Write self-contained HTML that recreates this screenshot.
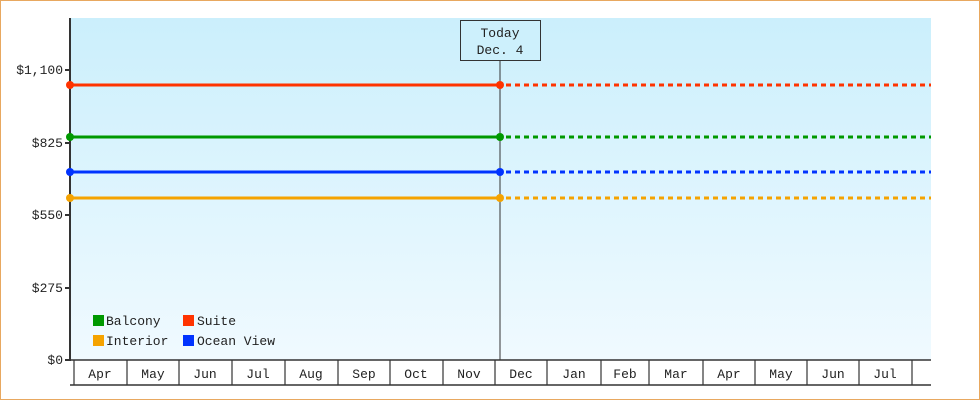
<!DOCTYPE html>
<html><head><meta charset="utf-8"><style>
html,body{margin:0;padding:0;background:#fff}
svg{display:block}
text{font-family:"Liberation Mono","DejaVu Sans Mono",monospace;font-size:13px;fill:#222}
</style></head><body>
<svg width="980" height="400" viewBox="0 0 980 400" xmlns="http://www.w3.org/2000/svg">
<defs><linearGradient id="g" x1="0" y1="0" x2="0" y2="1"><stop offset="0" stop-color="#cbeffc"/><stop offset="1" stop-color="#f0faff"/></linearGradient></defs>
<rect x="0.5" y="0.5" width="979" height="399" fill="#fff" stroke="#e8a860"/>
<rect x="71" y="18" width="860" height="342" fill="url(#g)"/>
<line x1="70" y1="18" x2="70" y2="361" stroke="#333" stroke-width="2"/>
<g stroke="#333" stroke-width="2">
<line x1="65" y1="70" x2="70" y2="70"/><line x1="65" y1="143" x2="70" y2="143"/><line x1="65" y1="215" x2="70" y2="215"/><line x1="65" y1="288" x2="70" y2="288"/><line x1="65" y1="360" x2="70" y2="360"/>
</g>
<g text-anchor="end">
<text x="63" y="74">$1,100</text><text x="63" y="147">$825</text><text x="63" y="219">$550</text><text x="63" y="292">$275</text><text x="63" y="364">$0</text>
</g>
<line x1="70" y1="360" x2="931" y2="360" stroke="#333" stroke-width="1.5"/>
<line x1="70" y1="385" x2="931" y2="385" stroke="#333" stroke-width="1.5"/>
<g stroke="#333" stroke-width="1.2">
<line x1="74" y1="360" x2="74" y2="385"/><line x1="127" y1="360" x2="127" y2="385"/><line x1="179" y1="360" x2="179" y2="385"/><line x1="232" y1="360" x2="232" y2="385"/><line x1="285" y1="360" x2="285" y2="385"/><line x1="338" y1="360" x2="338" y2="385"/><line x1="390" y1="360" x2="390" y2="385"/><line x1="443" y1="360" x2="443" y2="385"/><line x1="495" y1="360" x2="495" y2="385"/><line x1="547" y1="360" x2="547" y2="385"/><line x1="601" y1="360" x2="601" y2="385"/><line x1="649" y1="360" x2="649" y2="385"/><line x1="703" y1="360" x2="703" y2="385"/><line x1="755" y1="360" x2="755" y2="385"/><line x1="807" y1="360" x2="807" y2="385"/><line x1="859" y1="360" x2="859" y2="385"/><line x1="912" y1="360" x2="912" y2="385"/>
</g>
<g text-anchor="middle">
<text x="100" y="378">Apr</text><text x="153" y="378">May</text><text x="205" y="378">Jun</text><text x="258" y="378">Jul</text><text x="311" y="378">Aug</text><text x="364" y="378">Sep</text><text x="416" y="378">Oct</text><text x="469" y="378">Nov</text><text x="521" y="378">Dec</text><text x="574" y="378">Jan</text><text x="625" y="378">Feb</text><text x="676" y="378">Mar</text><text x="729" y="378">Apr</text><text x="781" y="378">May</text><text x="833" y="378">Jun</text><text x="885" y="378">Jul</text>
</g>
<line x1="500" y1="60" x2="500" y2="360" stroke="#333" stroke-width="1"/>
<rect x="460.5" y="20.5" width="80" height="40" fill="#cdf0fc" stroke="#333"/>
<text x="500" y="37" text-anchor="middle">Today</text>
<text x="500" y="54" text-anchor="middle">Dec. 4</text>
<g stroke-width="3">
<line x1="70" y1="85" x2="500" y2="85" stroke="#ff3300"/><line x1="506" y1="85" x2="931" y2="85" stroke="#ff3300" stroke-dasharray="5,4"/>
<line x1="70" y1="137" x2="500" y2="137" stroke="#009900"/><line x1="506" y1="137" x2="931" y2="137" stroke="#009900" stroke-dasharray="5,4"/>
<line x1="70" y1="172" x2="500" y2="172" stroke="#0033ff"/><line x1="506" y1="172" x2="931" y2="172" stroke="#0033ff" stroke-dasharray="5,4"/>
<line x1="70" y1="198" x2="500" y2="198" stroke="#f5a300"/><line x1="506" y1="198" x2="931" y2="198" stroke="#f5a300" stroke-dasharray="5,4"/>
</g>
<g>
<circle cx="70" cy="85" r="4" fill="#ff3300"/><circle cx="500" cy="85" r="4" fill="#ff3300"/>
<circle cx="70" cy="137" r="4" fill="#009900"/><circle cx="500" cy="137" r="4" fill="#009900"/>
<circle cx="70" cy="172" r="4" fill="#0033ff"/><circle cx="500" cy="172" r="4" fill="#0033ff"/>
<circle cx="70" cy="198" r="4" fill="#f5a300"/><circle cx="500" cy="198" r="4" fill="#f5a300"/>
</g>
<rect x="93" y="315" width="11" height="11" fill="#009900"/><text x="106" y="325">Balcony</text>
<rect x="183" y="315" width="11" height="11" fill="#ff3300"/><text x="197" y="325">Suite</text>
<rect x="93" y="335" width="11" height="11" fill="#f5a300"/><text x="106" y="345">Interior</text>
<rect x="183" y="335" width="11" height="11" fill="#0033ff"/><text x="197" y="345">Ocean View</text>
</svg>
</body></html>
